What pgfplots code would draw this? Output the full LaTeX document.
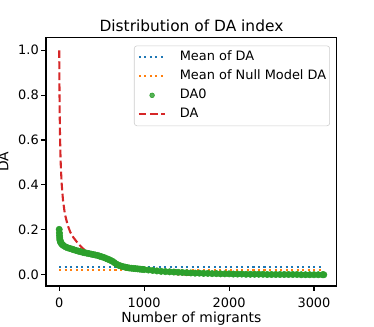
\documentclass[border=0pt]{standalone}
\usepackage{fontspec}
\setmainfont{DejaVu Sans}
\usepackage{pgfplots}
\pgfplotsset{compat=1.18}
\definecolor{tabblue}{HTML}{1F77B4}
\definecolor{taborange}{HTML}{FF7F0E}
\definecolor{tabgreen}{HTML}{2CA02C}
\definecolor{tabred}{HTML}{D62728}
\pgfplotsset{
  longline/.style={legend image code/.code={\draw[##1] (0pt,0pt) -- (19.2pt,0pt);}},
  dotlegend/.style={legend image code/.code={\draw[##1, mark size=1.7pt] plot coordinates {(9.6pt,0pt)};}},
}
\begin{document}
\begin{tikzpicture}
\useasboundingbox (-33.1pt,-29.5pt) rectangle (236.2pt,205.9pt);
\begin{axis}[
  scale only axis, width=209.5pt, height=178.6pt,
  xmin=-156, xmax=3270, ymin=-0.05, ymax=1.055,
  xtick={0,1000,2000,3000},
  ytick={0,0.2,0.4,0.6,0.8,1.0},
  /pgf/number format/1000 sep={},
  /pgf/number format/assume math mode=true,
  tick align=outside, tick pos=left, major tick length=3.5pt,
  every tick/.style={black, line width=0.8pt},
  axis line style={line width=0.8pt},
  ticklabel style={font=\fontsize{9.3}{11}\selectfont},
  yticklabel style={inner xsep=1.5pt, /pgf/number format/.cd, fixed, fixed zerofill, precision=1},
  xticklabel style={yshift=-1.5pt},
  title={Distribution of DA index},
  title style={font=\fontsize{11.1}{13}\selectfont, at={(axis description cs:0.5,1)}, anchor=base, yshift=-1.5pt},
  xlabel={Number of migrants}, ylabel={DA},
  label style={font=\fontsize{9.3}{11}\selectfont},
  every axis x label/.style={at={(axis description cs:0.5,0)}, anchor=base, yshift=-26.5pt},
  every axis y label/.style={at={(axis description cs:-0.129,0.5)}, rotate=90, anchor=base},
  legend style={at={(1,1)}, anchor=north east, xshift=-5pt, yshift=-5.5pt,
    draw=black!20, rounded corners=2pt, fill=white, fill opacity=0.8, text opacity=1,
    font=\fontsize{9.3}{11}\selectfont, row sep=4.7pt, inner xsep=2.5pt, inner ysep=3.75pt,
    nodes={inner xsep=0pt, inner ysep=0pt, text height=7pt, text depth=2pt},
    /tikz/every odd column/.append style={column sep=9.6pt}},
  legend cell align=left,
]
% mean lines
\addplot[tabblue, line width=1.5pt, dash pattern=on 1.5pt off 2.475pt, longline] coordinates {(0,0.033)(3115,0.033)};
\addlegendentry{Mean of DA}
\addplot[taborange, line width=1.5pt, dash pattern=on 1.5pt off 2.475pt, longline] coordinates {(0,0.022)(3115,0.022)};
\addlegendentry{Mean of Null Model DA}
% DA0
\addplot[only marks, mark=*, mark size=2.3pt, tabgreen, mark options={draw=tabgreen, fill=tabgreen}, dotlegend] coordinates {
(0,0.202)(2,0.186)(4,0.174)(6,0.164)(8,0.157)(10,0.152)(15,0.146)(20,0.142)(30,0.137)(40,0.133)
(50,0.130)(75,0.124)(100,0.120)(125,0.117)(150,0.114)(175,0.111)(200,0.108)(225,0.105)(250,0.103)
(275,0.100)(300,0.098)(325,0.096)(350,0.094)(375,0.092)(400,0.090)(425,0.088)(450,0.086)(475,0.083)
(500,0.080)(525,0.077)(550,0.073)(575,0.069)(600,0.065)(625,0.060)(650,0.054)(675,0.047)(700,0.042)
(725,0.039)(750,0.036)(775,0.034)(800,0.032)(825,0.030)(850,0.029)(875,0.028)(900,0.027)(925,0.026)
(950,0.025)(975,0.024)(1000,0.023)(1050,0.021)(1100,0.019)(1150,0.017)(1200,0.015)(1250,0.014)
(1300,0.013)(1350,0.012)(1400,0.011)(1450,0.010)(1500,0.009)(1550,0.008)(1600,0.007)(1650,0.007)
(1700,0.006)(1750,0.006)(1800,0.005)(1850,0.005)(1900,0.004)(1950,0.004)(2000,0.004)(2050,0.003)
(2100,0.003)(2150,0.003)(2200,0.002)(2250,0.002)(2300,0.002)(2350,0.002)(2400,0.002)(2450,0.001)
(2500,0.001)(2550,0.001)(2600,0.001)(2650,0.001)(2700,0.001)(2750,0.001)(2800,0.001)(2850,0)
(2900,0)(2950,0)(3000,0)(3050,0)(3100,0)(3115,0)};
\addlegendentry{DA0}
% DA
\addplot[tabred, line width=1.5pt, dash pattern=on 5.55pt off 2.4pt, longline] coordinates {
(0,1.0)(2,0.88)(4,0.78)(6,0.71)(8,0.65)(10,0.61)(15,0.53)(20,0.47)(30,0.40)(45,0.33)(67,0.27)
(100,0.22)(130,0.19)(165,0.167)(220,0.14)(283,0.115)(350,0.098)(441,0.082)(520,0.070)(600,0.057)
(660,0.046)(716,0.038)(800,0.031)(950,0.024)(1100,0.017)(1230,0.011)(1300,0.006)(1400,0.002)
(1500,0.0)(2000,0.0)(3115,0.0)};
\addlegendentry{DA}
\end{axis}
\end{tikzpicture}
\end{document}
